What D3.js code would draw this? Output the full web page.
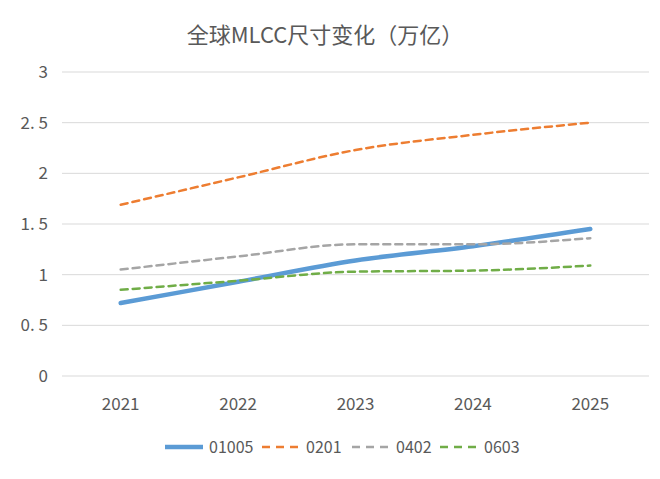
<!DOCTYPE html>
<html><head><meta charset="utf-8">
<script src="https://cdn.jsdelivr.net/npm/d3@7"></script>
<style>body{margin:0;background:#fff}text{font-family:"Noto Sans CJK SC","Noto Sans",sans-serif;fill:#595959}</style>
</head><body><svg id="c" width="660" height="479"></svg>
<script>
var years = ["2021", "2022", "2023", "2024", "2025"];
var seriesNames = ["01005", "0201", "0402", "0603"];
var s01005 = [0.72, 0.93, 1.14, 1.28, 1.45];
var s0201 = [1.69, 1.96, 2.23, 2.38, 2.50];
var s0402 = [1.05, 1.18, 1.30, 1.30, 1.36];
var s0603 = [0.85, 0.94, 1.03, 1.04, 1.09];
var yTicks = [0, 0.5, 1, 1.5, 2, 2.5, 3];

var svg = d3.select("#c");
var x = d3.scaleBand().domain(years).range([62, 649]);
var y = d3.scaleLinear().domain([0, 3]).range([376, 72]);
var series = [
  {name: "01005", vals: s01005, color: "#5b9bd5", w: 4.5, dash: null},
  {name: "0201", vals: s0201, color: "#ed7d31", w: 2.5, dash: "7,5"},
  {name: "0402", vals: s0402, color: "#a5a5a5", w: 2.5, dash: "7,5"},
  {name: "0603", vals: s0603, color: "#70ad47", w: 2.5, dash: "7,5"}
];

// grid
svg.selectAll("line.g").data(yTicks).enter().append("line")
  .attr("x1", 62).attr("x2", 649)
  .attr("y1", function (d) { return y(d); }).attr("y2", function (d) { return y(d); })
  .attr("stroke", "#d9d9d9").attr("stroke-width", 1);
svg.selectAll("text.yt").data(yTicks).enter().append("text")
  .attr("x", 48).attr("y", function (d) { return y(d) + 6; })
  .attr("text-anchor", "end").attr("font-size", 17)
  .text(function (d) { return String(d).replace(".", ". "); });
svg.selectAll("text.xt").data(years).enter().append("text")
  .attr("x", function (d) { return x(d) + x.bandwidth() / 2; }).attr("y", 410)
  .attr("text-anchor", "middle").attr("font-size", 17).text(function (d) { return d; });

svg.append("text").attr("x", 325).attr("y", 43).attr("text-anchor", "middle")
  .attr("font-size", 22).text("全球MLCC尺寸变化（万亿）");

var line = d3.line()
  .x(function (d, i) { return x(years[i]) + x.bandwidth() / 2; })
  .y(function (d) { return y(d); })
  .curve(d3.curveMonotoneX);

series.forEach(function (s) {
  svg.append("path").attr("d", line(s.vals)).attr("fill", "none")
    .attr("stroke", s.color).attr("stroke-width", s.w)
    .attr("stroke-dasharray", s.dash).attr("stroke-linecap", "round");
});

// legend
var lx = [165, 262, 352, 440];
series.forEach(function (s, i) {
  svg.append("line").attr("x1", lx[i]).attr("x2", lx[i] + 38).attr("y1", 447).attr("y2", 447)
    .attr("stroke", s.color).attr("stroke-width", s.w).attr("stroke-dasharray", s.dash ? "8,6" : null);
  svg.append("text").attr("x", lx[i] + 44).attr("y", 453).attr("font-size", 16).text(s.name);
});
</script></body></html>
